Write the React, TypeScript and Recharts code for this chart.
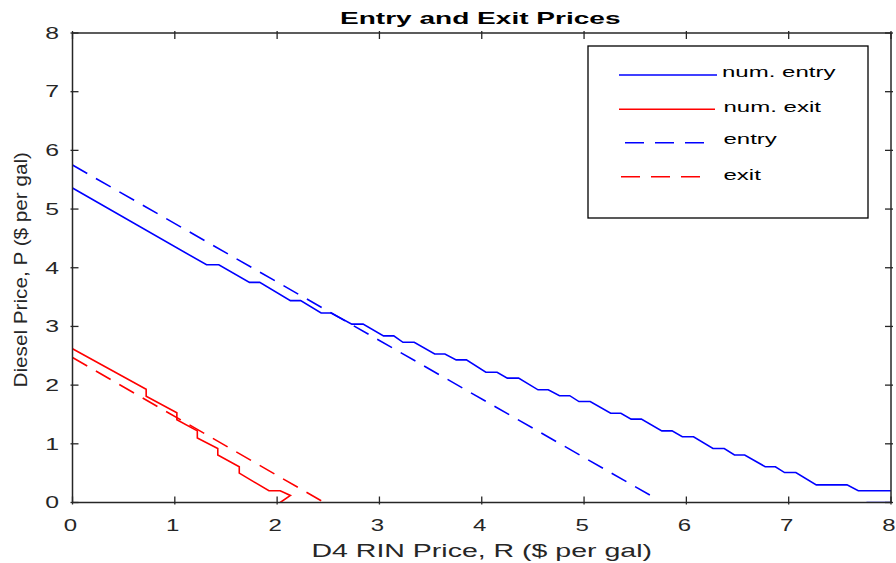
import React from 'react';
import { LineChart, Line, XAxis, YAxis, Legend } from 'recharts';

// ---------- data ----------
const R_TICKS = [0, 1, 2, 3, 4, 5, 6, 7, 8];
const P_TICKS = [0, 1, 2, 3, 4, 5, 6, 7, 8];

const numEntryR = [0, 1.31, 1.43, 1.73, 1.83, 2.13, 2.23, 2.43, 2.53, 2.73, 2.84, 3.04, 3.14, 3.23, 3.34, 3.54, 3.64, 3.75, 3.85, 4.04, 4.15, 4.25, 4.36, 4.55, 4.65, 4.76, 4.86, 4.95, 5.06, 5.26, 5.36, 5.46, 5.56, 5.76, 5.86, 5.96, 6.07, 6.26, 6.37, 6.47, 6.57, 6.77, 6.87, 6.96, 7.07, 7.27, 7.57, 7.68, 8.0, 7.76, 7.76, 8.0];
const numEntryP: (number | null)[] = [5.36, 4.05, 4.05, 3.75, 3.75, 3.44, 3.44, 3.23, 3.23, 3.04, 3.04, 2.84, 2.84, 2.73, 2.73, 2.53, 2.53, 2.43, 2.43, 2.22, 2.22, 2.12, 2.12, 1.92, 1.92, 1.82, 1.82, 1.72, 1.72, 1.52, 1.52, 1.42, 1.42, 1.22, 1.22, 1.12, 1.12, 0.92, 0.92, 0.81, 0.81, 0.61, 0.61, 0.51, 0.51, 0.30, 0.30, 0.20, 0.20, null, 0, 0];

const numExitR = [0, 0.72, 0.72, 1.02, 1.02, 1.22, 1.22, 1.42, 1.42, 1.63, 1.63, 1.92, 2.03, 2.13, 2.03];
const numExitP = [2.62, 1.93, 1.81, 1.53, 1.41, 1.22, 1.10, 0.92, 0.81, 0.61, 0.50, 0.20, 0.20, 0.12, 0.0];

const entryR = [0, 5.72];
const entryP = [5.75, 0.05];

const exitR = [0, 2.46];
const exitP = [2.47, 0];

// corners of the axes frame (used only to anchor the top/right axes)
const frameR = [0, 8];
const frameP = [0, 8];

const zip = (rs: number[], ps: (number | null)[]) => rs.map((R, i) => ({ R, P: ps[i] }));

const SERIES = [
  { name: 'num. entry', data: zip(numEntryR, numEntryP), color: '#0000ff', dash: undefined as string | undefined },
  { name: 'num. exit', data: zip(numExitR, numExitP), color: '#ff0000', dash: undefined as string | undefined },
  { name: 'entry', data: zip(entryR, entryP), color: '#0000ff', dash: '17 10' },
  { name: 'exit', data: zip(exitR, exitP), color: '#ff0000', dash: '17 10' },
];

// ---------- styling ----------
const AX = '#262626';
const FONT = '"Liberation Sans", Arial, Helvetica, sans-serif';
const TICK_LEN = 8;
const SX = 1.5;

const stretch = (x: number, sx: number) => `translate(${x} 0) scale(${sx} 1) translate(${-x} 0)`;

const BottomTick = (p: any) => (
  <g>
    <line x1={p.x} x2={p.x} y1={p.y} y2={p.y - TICK_LEN} stroke={AX} strokeWidth={1.3} />
    <text x={p.x - 2} y={p.y + 27} textAnchor="middle" fontSize={16} fontFamily={FONT} fill={AX} transform={stretch(p.x - 2, SX)}>
      {p.payload.value}
    </text>
  </g>
);
const LeftTick = (p: any) => (
  <g>
    <line x1={p.x} x2={p.x + TICK_LEN} y1={p.y} y2={p.y} stroke={AX} strokeWidth={1.3} />
    <text x={p.x - 11.5} y={p.y + 5.8} textAnchor="end" fontSize={16} fontFamily={FONT} fill={AX} transform={stretch(p.x - 11.5, 1.55)}>
      {p.payload.value}
    </text>
  </g>
);
const TopTick = (p: any) => (
  <line x1={p.x} x2={p.x} y1={p.y} y2={p.y + TICK_LEN} stroke={AX} strokeWidth={1.3} />
);
const RightTick = (p: any) => (
  <line x1={p.x} x2={p.x - TICK_LEN} y1={p.y} y2={p.y} stroke={AX} strokeWidth={1.3} />
);

const XLabel = (props: any) => {
  const vb = props.viewBox || { x: 72.5, y: 502.5, width: 818.5, height: 60.5 };
  const cx = vb.x + vb.width / 2;
  return (
    <text x={cx} y={vb.y + 54.2} textAnchor="middle" fontSize={19} fontFamily={FONT} fill={AX} transform={stretch(cx, 1.5)}>
      D4 RIN Price, R ($ per gal)
    </text>
  );
};
const YLabel = (props: any) => {
  const vb = props.viewBox || { x: 0, y: 33, width: 72.5, height: 469.5 };
  const cy = vb.y + vb.height / 2 + 2;
  return (
    <text x={0} y={0} textAnchor="middle" fontSize={19} fontFamily={FONT} fill={AX} transform={`translate(27 ${cy}) rotate(-90) scale(1.09 1)`}>
      Diesel Price, P ($ per gal)
    </text>
  );
};
const Title = (props: any) => {
  const vb = props.viewBox || { x: 72.5, y: 33, width: 818.5, height: 0 };
  const cx = vb.x + vb.width / 2 - 1.5;
  return (
    <text x={cx} y={24} textAnchor="middle" fontSize={16.5} fontWeight="bold" fontFamily={FONT} fill="#000" transform={stretch(cx, 1.7)}>
      Entry and Exit Prices
    </text>
  );
};

const LEGEND_ROWS = [
  { x1: 32, x2: 130, ly: 30, tx: 135, ty: 32 },
  { x1: 32, x2: 128, ly: 64.3, tx: 136.5, ty: 67 },
  { x1: 38, x2: 117, ly: 97.7, tx: 136.5, ty: 99 },
  { x1: 34, x2: 113, ly: 131.7, tx: 136.5, ty: 135 },
];

const renderLegend = () => (
  <svg width={282} height={174} style={{ display: 'block' }}>
    <rect x={1} y={1} width={280} height={172} fill="#fff" stroke="#000" strokeWidth={1.3} />
    {SERIES.map((s, i) => {
      const r = LEGEND_ROWS[i];
      return (
        <g key={s.name}>
          <line x1={r.x1} x2={r.x2} y1={r.ly} y2={r.ly} stroke={s.color} strokeWidth={1.5} strokeDasharray={s.dash ? '19 11' : undefined} />
          <text x={r.tx} y={r.ty} fontSize={15.5} fontFamily={FONT} fill="#000" transform={stretch(r.tx, 1.55)}>
            {s.name}
          </text>
        </g>
      );
    })}
  </svg>
);

export default function App() {
  return (
    <div style={{ position: 'absolute', left: 0, top: 0, background: '#fff' }}>
      <LineChart width={896} height={563} margin={{ top: 32, right: 4, bottom: 0, left: 0 }}>
        <XAxis
          xAxisId="b"
          dataKey="R"
          type="number"
          domain={[0, 8]}
          ticks={R_TICKS}
          interval={0}
          allowDataOverflow
          orientation="bottom"
          height={60.5}
          tickSize={0}
          tickLine={false}
          axisLine={{ stroke: AX, strokeWidth: 1.5 }}
          tick={BottomTick}
          label={XLabel}
        />
        <XAxis
          xAxisId="t"
          dataKey="R"
          type="number"
          domain={[0, 8]}
          ticks={R_TICKS}
          interval={0}
          allowDataOverflow
          orientation="top"
          height={1}
          tickSize={0}
          tickLine={false}
          axisLine={{ stroke: AX, strokeWidth: 1.5 }}
          tick={TopTick}
          label={Title}
        />
        <YAxis
          yAxisId="l"
          type="number"
          domain={[0, 8]}
          ticks={P_TICKS}
          interval={0}
          allowDataOverflow
          orientation="left"
          width={72.5}
          tickSize={0}
          tickLine={false}
          axisLine={{ stroke: AX, strokeWidth: 1.5 }}
          tick={LeftTick}
          label={YLabel}
        />
        <YAxis
          yAxisId="r"
          type="number"
          domain={[0, 8]}
          ticks={P_TICKS}
          interval={0}
          allowDataOverflow
          orientation="right"
          width={1}
          tickSize={0}
          tickLine={false}
          axisLine={{ stroke: AX, strokeWidth: 1.5 }}
          tick={RightTick}
        />
        <Line
          name="frame"
          data={zip(frameR, frameP)}
          dataKey="P"
          xAxisId="t"
          yAxisId="r"
          stroke="none"
          dot={false}
          activeDot={false}
          legendType="none"
          isAnimationActive={false}
        />
        {SERIES.map((s) => (
          <Line
            key={s.name}
            name={s.name}
            data={s.data}
            dataKey="P"
            xAxisId="b"
            yAxisId="l"
            type="linear"
            stroke={s.color}
            strokeWidth={1.6}
            strokeDasharray={s.dash}
            dot={false}
            activeDot={false}
            connectNulls={false}
            isAnimationActive={false}
          />
        ))}
        <Legend
          layout="horizontal"
          verticalAlign="middle"
          align="center"
          content={renderLegend}
          wrapperStyle={{ left: 587, top: 45, width: 282, height: 174 }}
        />
      </LineChart>
    </div>
  );
}
